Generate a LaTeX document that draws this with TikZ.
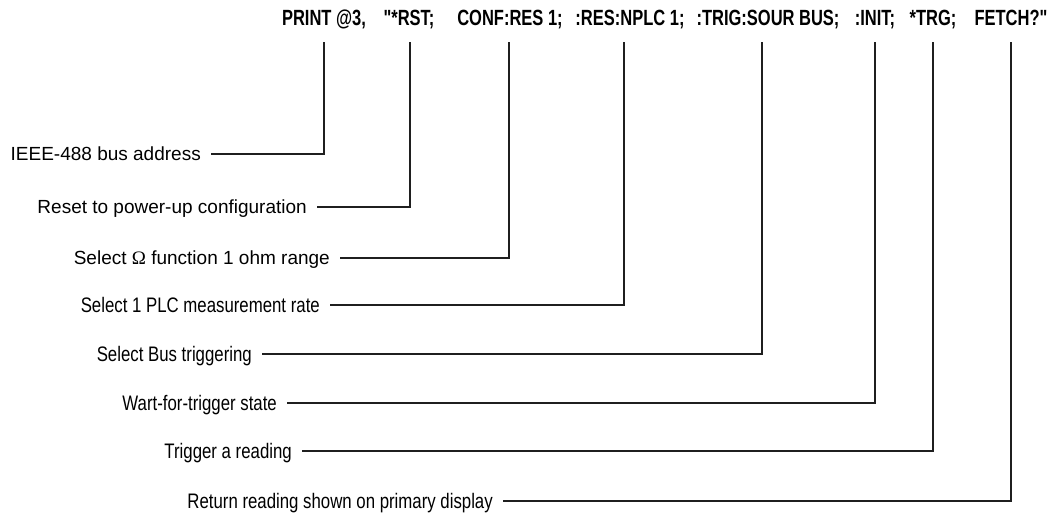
\documentclass[tikz,border=0pt]{standalone}
\usepackage{fontspec}
\setmainfont{Liberation Sans}
\newfontfamily\cmdfont{Liberation Sans}[FakeStretch=0.75]
\newfontfamily\narrowfont{Liberation Sans}[FakeStretch=0.8]
\newfontfamily\omegafont{Liberation Serif}

\begin{document}
\begin{tikzpicture}[x=1pt, y=-1pt,
	cmd/.style={anchor=base, inner xsep=0pt, inner ysep=0pt, text depth=16pt,
		font=\cmdfont\bfseries\fontsize{22}{24}\selectfont},
	lbl/.style={anchor=east, inner xsep=10pt, inner ysep=0pt, text height=13.6pt,
		text depth=0pt, font=\fontsize{19}{21}\selectfont},
	lblnarrow/.style={lbl, text height=15pt, font=\narrowfont\fontsize{21}{23}\selectfont},
	lead/.style={line width=1.2pt, color=black!88}]
		%%%%% START %%%%%
		
		\useasboundingbox (0, 0) rectangle (1049, 516);
		
		% command string
		\node[cmd] (tPrint) at (324, 26) {PRINT @3,};
		\node[cmd] (tRst) at (409, 26) {"*RST;};
		\node[cmd] (tConf) at (510, 26) {CONF:RES 1;};
		\node[cmd] (tNplc) at (630, 26) {:RES:NPLC 1;};
		\node[cmd] (tTrig) at (768, 26) {:TRIG:SOUR BUS;};
		\node[cmd] (tInit) at (875, 26) {:INIT;};
		\node[cmd] (tTrg) at (933, 26) {*TRG;};
		\node[cmd] (tFetch) at (1011, 26) {FETCH?"};
		
		% descriptions
		\node[lbl] (lAddr) at (211, 154) {IEEE-488 bus address};
		\node[lbl] (lReset) at (317, 207) {Reset to power-up configuration};
		\node[lbl] (lOhm) at (340, 258) {Select {\omegafont Ω} function 1 ohm range};
		\node[lblnarrow] (lRate) at (330, 305) {Select 1 PLC measurement rate};
		\node[lblnarrow] (lBus) at (262, 354) {Select Bus triggering};
		\node[lblnarrow] (lWait) at (287, 403) {Wart-for-trigger state};
		\node[lblnarrow] (lTrg) at (302, 451) {Trigger a reading};
		\node[lblnarrow] (lFetch) at (503, 501) {Return reading shown on primary display};
		
		% leaders
		\draw[lead] (lAddr.east) -| (tPrint.south);
		\draw[lead] (lReset.east) -| ([xshift=1pt]tRst.south);
		\draw[lead] (lOhm.east) -| ([xshift=-1pt]tConf.south);
		\draw[lead] (lRate.east) -| ([xshift=-6pt]tNplc.south);
		\draw[lead] (lBus.east) -| ([xshift=-6pt]tTrig.south);
		\draw[lead] (lWait.east) -| (tInit.south);
		\draw[lead] (lTrg.east) -| (tTrg.south);
		\draw[lead] (lFetch.east) -| (tFetch.south);
		
		%%%%% END %%%%%
	\end{tikzpicture}
\end{document}
